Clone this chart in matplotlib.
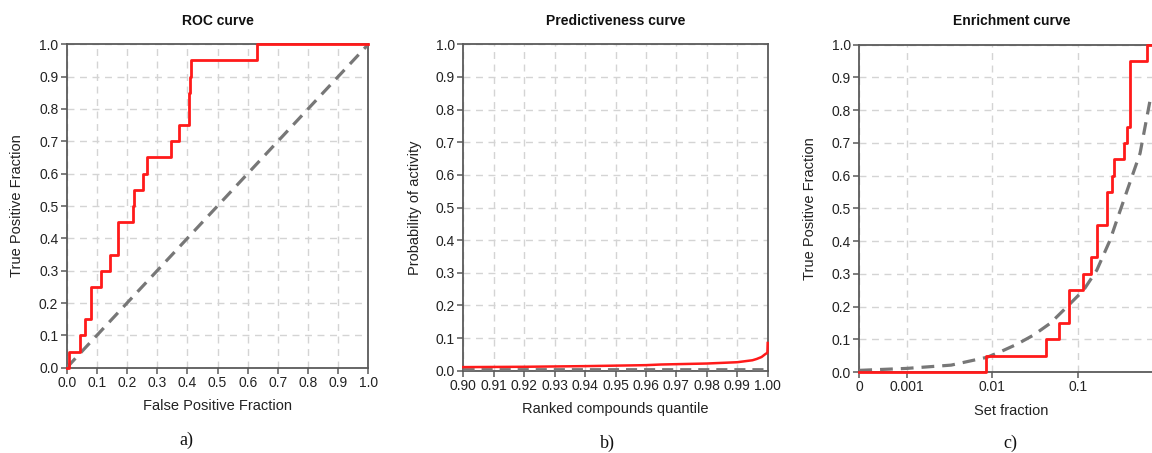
import numpy as np
import matplotlib
matplotlib.use("Agg")
import matplotlib.pyplot as plt

# ---------------- data ----------------
# ROC curve (step positions, TPR level after each step)
roc_fpr = [0.0, 0.008, 0.044, 0.062, 0.081, 0.114, 0.143, 0.169, 0.221, 0.223,
           0.254, 0.267, 0.345, 0.373, 0.404, 0.409, 0.412, 0.632, 1.0]
roc_tpr = [0.0, 0.05, 0.10, 0.15, 0.25, 0.30, 0.35, 0.45, 0.50, 0.55,
           0.60, 0.65, 0.70, 0.75, 0.85, 0.90, 0.95, 1.0, 1.0]
roc_random = [0.0, 1.0]

# Predictiveness curve
pred_quantile = [0.90, 0.92, 0.94, 0.96, 0.965, 0.98, 0.99, 0.995, 0.9964, 0.998, 0.9991, 0.9999, 1.0]
pred_prob = [0.011, 0.012, 0.014, 0.017, 0.019, 0.022, 0.026, 0.032, 0.036, 0.042, 0.050, 0.055, 0.085]
pred_prevalence = 0.005

# Enrichment curve (step positions on set fraction, TPR after each step)
enr_frac = [0.0, 0.0084, 0.0423, 0.060, 0.0793, 0.1143, 0.1445, 0.168, 0.220, 0.222,
            0.254, 0.267, 0.344, 0.377, 0.412, 0.644, 1.0]
enr_tpr = [0.0, 0.05, 0.10, 0.15, 0.25, 0.30, 0.35, 0.45, 0.50, 0.55,
           0.60, 0.65, 0.70, 0.75, 0.95, 1.0, 1.0]
enr_rand_x = [0.0, 0.001, 0.0033, 0.0087, 0.0125, 0.0195, 0.0305, 0.0478, 0.0748,
              0.117, 0.167, 0.239, 0.287, 0.392, 0.536, 0.721]
enr_rand_y = [0.005, 0.011, 0.021, 0.045, 0.062, 0.085, 0.113, 0.149, 0.199,
              0.250, 0.311, 0.403, 0.464, 0.566, 0.668, 0.846]

y_ticks = [0.0, 0.1, 0.2, 0.3, 0.4, 0.5, 0.6, 0.7, 0.8, 0.9, 1.0]
roc_xticks = [0.0, 0.1, 0.2, 0.3, 0.4, 0.5, 0.6, 0.7, 0.8, 0.9, 1.0]
pred_xticks = [0.90, 0.91, 0.92, 0.93, 0.94, 0.95, 0.96, 0.97, 0.98, 0.99, 1.00]
enr_xticks = [0, 0.001, 0.01, 0.1]
enr_xticklabels = ["0", "0.001", "0.01", "0.1"]

titles = ["ROC curve", "Predictiveness curve", "Enrichment curve"]
xlabels = ["False Positive Fraction", "Ranked compounds quantile", "Set fraction"]
ylabels = ["True Positive Fraction", "Probability of activity", "True Positive Fraction"]
panel_tags = ["a)", "b)", "c)"]

# ---------------- style ----------------
plt.rcParams['font.family'] = ['Liberation Sans', 'DejaVu Sans']
W, H = 1152, 453
fig = plt.figure(figsize=(W / 100, H / 100), dpi=100)
fig.patch.set_facecolor('white')

RED = '#ff1a1a'
DASH = '#777777'
SPINE = '#5a5a5a'
GRID = '#d4d4d4'

def px_axes(left, top, right, bottom):
    return fig.add_axes([left / W, 1 - bottom / H, (right - left) / W, (bottom - top) / H])

ax_a = px_axes(66.7, 44.3, 368.3, 367.7)
ax_b = px_axes(463.3, 44.3, 767.7, 370.7)
ax_c = px_axes(859.3, 44.7, 1163.2, 372.0)
axes = [ax_a, ax_b, ax_c]

def style(ax):
    for s in ax.spines.values():
        s.set_color(SPINE)
        s.set_linewidth(1.3)
    ax.tick_params(direction='out', length=4, width=1.1, color=SPINE,
                   labelsize=10, labelcolor='#222222', pad=2)
    ax.grid(True, color=GRID, linestyle=(0, (5, 4)), linewidth=1.0)
    ax.set_axisbelow(True)
    ax.set_yticks(y_ticks)
    ax.set_yticklabels([f"{v:.1f}" for v in y_ticks])
    ax.set_ylim(0, 1)

# Panel a: ROC
ax_a.step(roc_fpr, roc_tpr, where='post', color=RED, lw=2.0, zorder=5, clip_on=False)
ax_a.plot(roc_random, roc_random, color=DASH, lw=2.3, linestyle=(0, (4, 2.5)), zorder=4)
ax_a.set_xlim(0, 1)
ax_a.set_xticks(roc_xticks)
ax_a.set_xticklabels([f"{v:.1f}" for v in roc_xticks])
style(ax_a)

# Panel b: predictiveness
ax_b.plot(pred_quantile, pred_prob, color=RED, lw=1.8, zorder=5, clip_on=False)
ax_b.axhline(pred_prevalence, color=DASH, lw=2.0, linestyle=(0, (4, 2.5)), zorder=4)
ax_b.set_xlim(0.90, 1.00)
ax_b.set_xticks(pred_xticks)
ax_b.set_xticklabels([f"{v:.2f}" for v in pred_xticks])
style(ax_b)

# Panel c: enrichment
ax_c.set_xscale('symlog', linthresh=0.001, linscale=0.5)
ax_c.step(enr_frac, enr_tpr, where='post', color=RED, lw=2.0, zorder=5, clip_on=False)
ax_c.plot(enr_rand_x, enr_rand_y, color=DASH, lw=2.3, linestyle=(0, (4, 2.5)), zorder=4)
ax_c.set_xlim(0, 1)
ax_c.set_xticks(enr_xticks)
ax_c.set_xticklabels(enr_xticklabels)
ax_c.xaxis.set_minor_locator(matplotlib.ticker.NullLocator())
style(ax_c)

ylab_x = [-0.14, -0.137, -0.14]
for ax, t, xl, yl, yx in zip(axes, titles, xlabels, ylabels, ylab_x):
    ax.set_title(t, fontsize=10, fontweight='bold', color='#111111', pad=14)
    ax.set_xlabel(xl, fontsize=10.5, color='#222222')
    ax.set_ylabel(yl, fontsize=10.5, color='#222222')
    ax.xaxis.set_label_coords(0.5, -0.097)
    ax.yaxis.set_label_coords(yx, 0.5)

# panel tags
for x, y, tag in zip([186, 607, 1010], [440, 443, 443], panel_tags):
    fig.text(x / W, 1 - y / H, tag, fontsize=13, family=['Liberation Serif', 'DejaVu Serif'],
             ha='center', va='center', color='#111111')

fig.savefig('out.png', dpi=100, facecolor='white')
